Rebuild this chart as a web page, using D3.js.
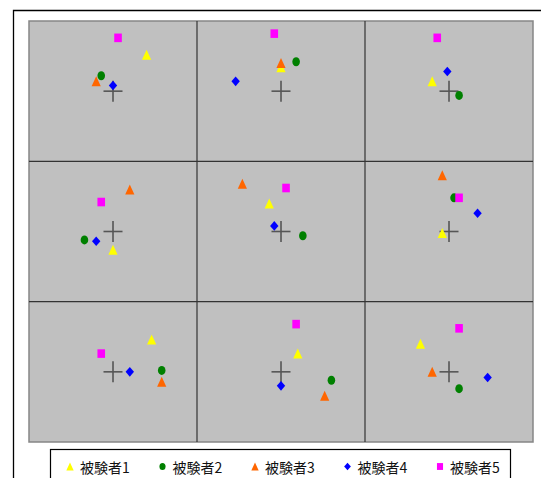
<!DOCTYPE html>
<html lang="ja">

<head>
  <meta charset="UTF-8">
  <title>Chart</title>
  <style>
    body { margin: 0; background: #fff; }
  </style>
</head>

<body>
  <svg id="svg" width="541" height="478"></svg>

  <script src="https://d3js.org/d3.v7.min.js"></script>
  <script>
    // one name per subject, legend order
    const subjects = ["被験者1", "被験者2", "被験者3", "被験者4", "被験者5"]
    const colors = ["#ffff00", "#008000", "#ff6600", "#0000ff", "#ff00ff"]
    const shapes = ["triangle", "circle", "triangle", "diamond", "square"]

    // panel centres (the crosses), in data units, 3 x 3 grid
    const centers = [0.5, 1.5, 2.5]
    const gridLines = [1, 2]

    // x, y per panel (panels 1..9 left to right, top to bottom); null = missing
    const s1x = [0.70, 1.50, 2.40, 0.50, 1.43, 2.46, 0.73, 1.60, 2.33]
    const s1y = [2.76, 2.67, 2.57, 1.37, 1.70, 1.49, 0.73, 0.63, 0.70]
    const s2x = [0.43, 1.59, 2.56, 0.33, 1.63, 2.53, 0.79, 1.80, 2.56]
    const s2y = [2.61, 2.71, 2.47, 1.44, 1.47, 1.74, 0.51, 0.44, 0.38]
    const s3x = [0.40, 1.50, null, 0.60, 1.27, 2.46, 0.79, 1.76, 2.40]
    const s3y = [2.57, 2.70, null, 1.80, 1.84, 1.90, 0.43, 0.33, 0.50]
    const s4x = [0.50, 1.23, 2.49, 0.40, 1.46, 2.67, 0.60, 1.50, 2.73]
    const s4y = [2.54, 2.57, 2.64, 1.43, 1.54, 1.63, 0.50, 0.40, 0.46]
    const s5x = [0.53, 1.46, 2.43, 0.43, 1.53, 2.56, 0.43, 1.59, 2.56]
    const s5y = [2.88, 2.91, 2.88, 1.71, 1.81, 1.74, 0.63, 0.84, 0.81]

    const seriesX = [s1x, s2x, s3x, s4x, s5x]
    const seriesY = [s1y, s2y, s3y, s4y, s5y]

    const svg = d3.select("#svg")

    const xScale = d3.scaleLinear().domain([0, 3]).range([29, 533])
    const yScale = d3.scaleLinear().domain([0, 3]).range([442, 21])

    // marker outlines, roughly 9px wide, a bit taller than wide
    function markerPath(shape, k) {
      const p = d3.path()
      if (shape === "triangle") {
        p.moveTo(0, -5 * k); p.lineTo(4.6 * k, 5 * k); p.lineTo(-4.6 * k, 5 * k); p.closePath()
      } else if (shape === "diamond") {
        p.moveTo(0, -4.8 * k); p.lineTo(4.2 * k, 0); p.lineTo(0, 4.8 * k); p.lineTo(-4.2 * k, 0); p.closePath()
      } else if (shape === "square") {
        p.rect(-3.8 * k, -4.3 * k, 7.6 * k, 8.6 * k)
      } else {
        p.ellipse ? p.ellipse(0, 0, 3.8 * k, 4.4 * k, 0, 0, 2 * Math.PI) : p.arc(0, 0, 4 * k, 0, 2 * Math.PI)
      }
      return p.toString()
    }

    function circleOrPath(g, shape, k, color) {
      if (shape === "circle") {
        g.append("ellipse").attr("rx", 3.8 * k).attr("ry", 4.5 * k).attr("fill", color)
      } else {
        g.append("path").attr("d", markerPath(shape, k)).attr("fill", color)
      }
    }

    // outer chart border (top and left visible)
    svg.append("path")
      .attr("d", "M13.5,478 L13.5,10.5 L541,10.5")
      .attr("fill", "none")
      .attr("stroke", "#000")
      .attr("stroke-width", 1.3)

    // plot area
    svg.append("rect")
      .attr("x", xScale(0))
      .attr("y", yScale(3))
      .attr("width", xScale(3) - xScale(0))
      .attr("height", yScale(0) - yScale(3))
      .attr("fill", "#c0c0c0")
      .attr("stroke", "#868686")
      .attr("stroke-width", 1.5)

    svg.selectAll(".vgrid")
      .data(gridLines)
      .enter()
      .append("line")
      .attr("x1", d => xScale(d))
      .attr("x2", d => xScale(d))
      .attr("y1", yScale(3))
      .attr("y2", yScale(0))
      .attr("stroke", "#333")
      .attr("stroke-width", 1.2)

    svg.selectAll(".hgrid")
      .data(gridLines)
      .enter()
      .append("line")
      .attr("y1", d => yScale(d))
      .attr("y2", d => yScale(d))
      .attr("x1", xScale(0))
      .attr("x2", xScale(3))
      .attr("stroke", "#333")
      .attr("stroke-width", 1.2)

    // crosses at each panel centre
    const crossPts = []
    centers.forEach(cy => centers.forEach(cx => crossPts.push([cx, cy])))
    const cross = svg.selectAll(".cross")
      .data(crossPts)
      .enter()
      .append("g")
      .attr("transform", d => `translate(${xScale(d[0])},${yScale(d[1])})`)
    cross.append("line").attr("x1", -9.5).attr("x2", 9.5).attr("y1", 0).attr("y2", 0)
      .attr("stroke", "#555").attr("stroke-width", 1.6)
    cross.append("line").attr("x1", 0).attr("x2", 0).attr("y1", -10.5).attr("y2", 10.5)
      .attr("stroke", "#555").attr("stroke-width", 1.6)

    // subjects, drawn in order so later ones sit on top
    subjects.forEach((name, i) => {
      const pts = seriesX[i].map((x, j) => [x, seriesY[i][j]]).filter(d => d[0] !== null)
      const g = svg.selectAll(".s" + i)
        .data(pts)
        .enter()
        .append("g")
        .attr("transform", d => `translate(${xScale(d[0])},${yScale(d[1])})`)
      g.each(function () { circleOrPath(d3.select(this), shapes[i], 1, colors[i]) })
    })

    // legend
    svg.append("rect")
      .attr("x", 50.5)
      .attr("y", 449.5)
      .attr("width", 460)
      .attr("height", 40)
      .attr("fill", "#fff")
      .attr("stroke", "#000")
      .attr("stroke-width", 1.2)

    const legendX = d3.scalePoint().domain(subjects).range([70, 440])
    const items = svg.selectAll(".legend")
      .data(subjects)
      .enter()
      .append("g")
      .attr("transform", d => `translate(${legendX(d)},466.5)`)
    items.each(function (d, i) { circleOrPath(d3.select(this), shapes[i], 0.8, colors[i]) })
    items.append("text")
      .text(d => d)
      .attr("x", 10)
      .attr("y", 6)
      .style("font-family", "'Noto Sans CJK JP', sans-serif")
      .style("font-size", "14px")
      .attr("fill", "#111")
  </script>
</body>

</html>
